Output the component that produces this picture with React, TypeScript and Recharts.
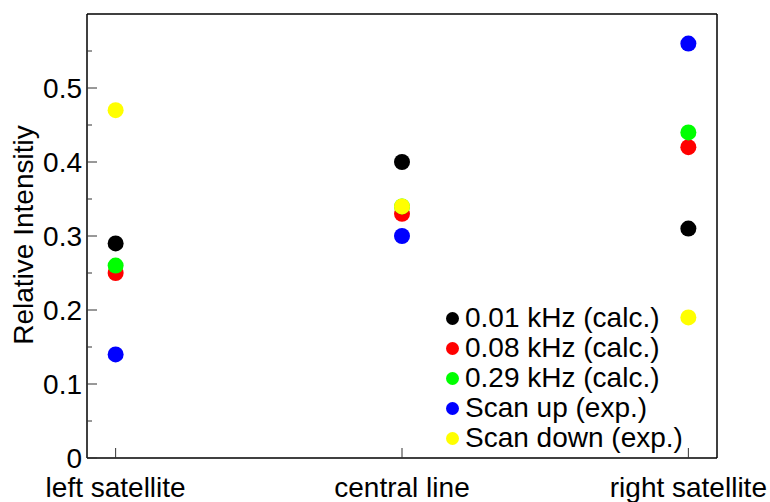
import { ScatterChart, Scatter, XAxis, YAxis, Legend } from 'recharts';

const categories = ['left satellite', 'central line', 'right satellite'];
const calc001 = [0.29, 0.4, 0.31];
const calc008 = [0.25, 0.33, 0.42];
const calc029 = [0.26, 0.34, 0.44];
const scanUp = [0.14, 0.3, 0.56];
const scanDown = [0.47, 0.34, 0.19];
const yTicks = [0, 0.05, 0.1, 0.15, 0.2, 0.25, 0.3, 0.35, 0.4, 0.45, 0.5, 0.55];
const yTickLabels = ['0', '', '0.1', '', '0.2', '', '0.3', '', '0.4', '', '0.5', ''];

const series = [
  { name: '0.01 kHz (calc.)', values: calc001, color: '#000000' },
  { name: '0.08 kHz (calc.)', values: calc008, color: '#ff0000' },
  { name: '0.29 kHz (calc.)', values: calc029, color: '#00ff00' },
  { name: 'Scan up (exp.)', values: scanUp, color: '#0000ff' },
  { name: 'Scan down (exp.)', values: scanDown, color: '#ffff00' },
];

const W = 770;
const H = 502;
const LEFT = 87;
const RIGHT = 717;
const TOP = 14;
const BOTTOM = 458;
const FONT = 'Liberation Sans, Arial, sans-serif';
const FS = 28;

const LeftTick = (props: any) => {
  const { y, index } = props;
  const label = yTickLabels[index];
  const len = label !== '' ? 10 : 5;
  return (
    <g>
      <line x1={LEFT} x2={LEFT + len} y1={y} y2={y} stroke="#333" strokeWidth={1} />
      {label !== '' && (
        <text x={LEFT - 5} y={y} textAnchor="end" dominantBaseline="central" fontSize={FS} fontFamily={FONT} fill="#000">
          {label}
        </text>
      )}
    </g>
  );
};

const RightTick = (props: any) => {
  const { y, index } = props;
  const len = yTickLabels[index] !== '' ? 10 : 5;
  return <line x1={RIGHT} x2={RIGHT - len} y1={y} y2={y} stroke="#333" strokeWidth={1} />;
};

const BottomTick = (props: any) => {
  const { x, index } = props;
  return (
    <g>
      <line x1={x} x2={x} y1={BOTTOM} y2={BOTTOM - 10} stroke="#333" strokeWidth={1} />
      <text x={x} y={H - 5} textAnchor="middle" fontSize={FS} fontFamily={FONT} fill="#000">
        {categories[index]}
      </text>
    </g>
  );
};

const TopTick = (props: any) => {
  const { x } = props;
  return <line x1={x} x2={x} y1={TOP} y2={TOP + 10} stroke="#333" strokeWidth={1} />;
};

const Dot = (props: any) => {
  const { cx, cy, fill } = props;
  return <circle cx={cx} cy={cy} r={8} fill={fill} />;
};

const LegendBox = () => (
  <div style={{ fontFamily: FONT, fontSize: FS, lineHeight: '30px', color: '#000' }}>
    {series.map((s) => (
      <div key={s.name} style={{ display: 'flex', alignItems: 'center', whiteSpace: 'nowrap' }}>
        <span
          style={{
            display: 'inline-block',
            width: 13,
            height: 13,
            borderRadius: '50%',
            background: s.color,
            marginRight: 6,
          }}
        />
        {s.name}
      </div>
    ))}
  </div>
);

export default function App() {
  return (
    <div style={{ position: 'absolute', left: 0, top: 0, width: W, height: H, background: '#fff' }}>
      <ScatterChart width={W} height={H} margin={{ top: 0, right: 0, bottom: 0, left: 0 }}>
        <XAxis
          xAxisId="b"
          type="number"
          dataKey="x"
          domain={[-0.1, 2.1]}
          ticks={[0, 1, 2]}
          height={H - BOTTOM}
          axisLine={{ stroke: '#000', strokeWidth: 1.5 }}
          tickLine={false}
          tick={<BottomTick />}
          interval={0}
        />
        <XAxis
          xAxisId="t"
          orientation="top"
          type="number"
          dataKey="x"
          domain={[-0.1, 2.1]}
          ticks={[0, 1, 2]}
          height={TOP}
          axisLine={{ stroke: '#000', strokeWidth: 1.5 }}
          tickLine={false}
          tick={<TopTick />}
          interval={0}
        />
        <YAxis
          yAxisId="l"
          type="number"
          dataKey="y"
          domain={[0, 0.6]}
          ticks={yTicks}
          width={LEFT}
          axisLine={{ stroke: '#000', strokeWidth: 1.5 }}
          tickLine={false}
          tick={<LeftTick />}
          interval={0}
          label={{
            content: () => (
              <text
                x={33}
                y={235}
                textAnchor="middle"
                transform="rotate(-90, 33, 235)"
                fontSize={FS}
                fontFamily={FONT}
                fill="#000"
              >
                Relative Intensitiy
              </text>
            ),
          }}
        />
        <YAxis
          yAxisId="r"
          orientation="right"
          type="number"
          dataKey="y"
          domain={[0, 0.6]}
          ticks={yTicks}
          width={W - RIGHT}
          axisLine={{ stroke: '#000', strokeWidth: 1.5 }}
          tickLine={false}
          tick={<RightTick />}
          interval={0}
        />
        <Legend
          layout="vertical"
          align="center"
          verticalAlign="middle"
          content={<LegendBox />}
          wrapperStyle={{ left: 446, top: 303, width: 'auto' }}
        />
        {series.map((s) => (
          <Scatter
            key={s.name}
            name={s.name}
            xAxisId="b"
            yAxisId="l"
            data={s.values.map((v, i) => ({ x: i, y: v }))}
            fill={s.color}
            shape={<Dot />}
            isAnimationActive={false}
          />
        ))}
      </ScatterChart>
    </div>
  );
}
